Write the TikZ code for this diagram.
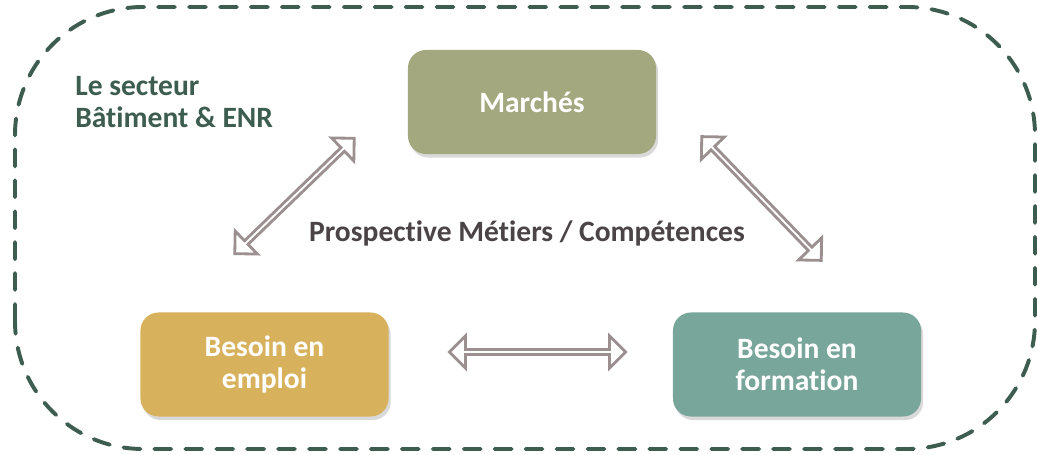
\documentclass[tikz,border=0pt]{standalone}
\usepackage{fontspec}
\setmainfont{Carlito}[Ligatures=NoCommon]
\usepackage{tikz}
\usetikzlibrary{positioning}
\usetikzlibrary{shapes.arrows}
\usetikzlibrary{shadows}

\definecolor{secteurgreen}{HTML}{3D5D50}
\definecolor{marchecolor}{HTML}{A3A87E}
\definecolor{emploicolor}{HTML}{D8B15C}
\definecolor{formationcolor}{HTML}{79A69A}
\definecolor{arrowgray}{HTML}{9B8F90}
\definecolor{prospgray}{HTML}{4A4446}

\tikzset{
    besoinbox/.style={rectangle, rounded corners=0.45cm, minimum width=6.2cm, minimum height=2.6cm,
        text=white, align=center, font=\fontsize{21}{22.5}\selectfont\bfseries,
        drop shadow={shadow xshift=1.5pt, shadow yshift=-2.5pt, opacity=0.3}},
    dblarrow/.style={double arrow, draw=arrowgray, fill=white, line width=2pt, inner sep=0pt,
        minimum width=0.8cm, double arrow head extend=0.19cm, double arrow head indent=0pt}
}

\begin{document}
\begin{tikzpicture}[x=0.025cm, y=0.025cm]
        \useasboundingbox (0,0) rectangle (1038,454);
        %\node at (519,227) {centre};
        \draw[secteurgreen, line width=2.8pt, dash pattern=on 12pt off 10pt, line cap=round, rounded corners=3.2cm]
            (15,5) rectangle (1035,447);
        \node[anchor=base west, align=left, inner sep=0pt, text=secteurgreen, font=\fontsize{21}{23.4}\selectfont\bfseries]
            (secteur) at (75,326) {Le secteur\\Bâtiment \& ENR};

        \node[besoinbox, fill=marchecolor] (marches) at (532,352) {Marchés};
        \node[besoinbox, fill=emploicolor] (emploi) at (264.5,89.5) {Besoin en\\emploi};
        \node[besoinbox, fill=formationcolor] (formation) at (797,89.5) {Besoin en\\formation};

        \node[anchor=base, text=prospgray, font=\fontsize{21}{22}\selectfont\bfseries]
            (prospective) at (527,212) {Prospective Métiers / Compétences};

        \node[dblarrow, minimum height=4.4cm] (arrowbas) at (537.5,102) {};
        \node[dblarrow, minimum height=4.15cm, rotate=44] (arrowgauche) at (294.5,258) {};
        \node[dblarrow, minimum height=4.3cm, rotate=-46] (arrowdroite) at (761.5,255.5) {};
    \end{tikzpicture}
\end{document}
